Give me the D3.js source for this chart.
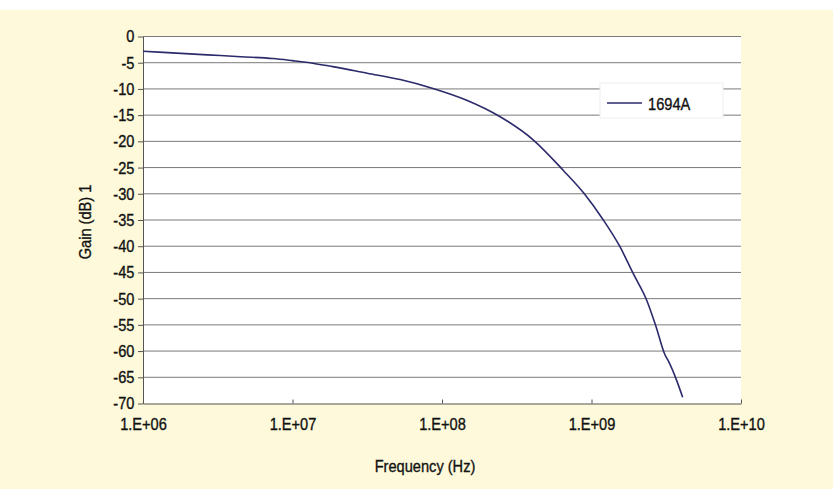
<!DOCTYPE html>
<html>
<head>
<meta charset="utf-8">
<script src="https://cdn.jsdelivr.net/npm/d3@7"></script>
<style>
  body { margin: 0; background: #fdf9da; }
  svg text { font-family: "Liberation Sans", Arial, sans-serif; fill: #111; stroke: #111; stroke-width: 0.35px; }
  .grid line { stroke: #7a7a7a; stroke-width: 1; }
  .axis path, .axis line { stroke: #555; }
</style>
</head>
<body>
<script>
//Series: frequency (Hz) and gain (dB)
var freqHz = [1.0e6, 2.7e6, 4.5e6, 7.4e6, 1.0e7, 1.23e7, 1.86e7, 3.16e7, 5.25e7, 8.7e7,
              1.45e8, 2.45e8, 4.07e8, 6.46e8, 8.9e8, 1.2e9, 1.55e9, 1.9e9, 2.34e9,
              2.7e9, 3.1e9, 3.24e9, 3.7e9, 4.07e9];
var gainDb = [-2.8, -3.5, -3.85, -4.2, -4.6, -4.9, -5.75, -7.0, -8.2, -9.9,
              -12.1, -15.3, -19.7, -25.5, -29.9, -35.0, -40.1, -45.2, -50.3,
              -55.3, -60.7, -61.7, -65.5, -68.8];
var xTicks = [1e6, 1e7, 1e8, 1e9, 1e10];
var xTickLabels = ["1.E+06", "1.E+07", "1.E+08", "1.E+09", "1.E+10"];
var yTicks = [0, -5, -10, -15, -20, -25, -30, -35, -40, -45, -50, -55, -60, -65, -70];
var seriesName = "1694A";

//Frame
var width = 833, height = 489;
var plotLeft = 143, plotRight = 741, plotTop = 36.5, plotBottom = 403.5;
var narrow = "scale(0.86,1)";

var svg = d3.select("body").append("svg")
    .attr("width", width)
    .attr("height", height);

//White strip along the top edge of the scan
svg.append("rect")
    .attr("width", width).attr("height", 10)
    .attr("fill", "#ffffff");

var x = d3.scaleLog().domain([1e6, 1e10]).range([plotLeft, plotRight]);
var y = d3.scaleLinear().domain([-70, 0]).range([plotBottom, plotTop]);

//Plot area
svg.append("rect")
    .attr("x", plotLeft).attr("y", plotTop)
    .attr("width", plotRight - plotLeft).attr("height", plotBottom - plotTop)
    .attr("fill", "#ffffff");

//Horizontal gridlines
svg.append("g")
    .attr("class", "grid")
    .selectAll("line")
    .data(yTicks.filter(function(d){ return d > -70; }))
    .enter()
    .append("line")
    .attr("x1", plotLeft).attr("x2", plotRight)
    .attr("y1", function(d){ return y(d); })
    .attr("y2", function(d){ return y(d); });

//Y axis (plain hyphen for the minus sign, as in the original)
var yAxis = svg.append("g")
    .attr("class", "axis")
    .attr("transform", "translate(" + plotLeft + ",0)")
    .call(d3.axisLeft(y).tickValues(yTicks)
        .tickFormat(function(d){ return String(d); })
        .tickSize(5).tickSizeOuter(0).tickPadding(5));
yAxis.selectAll("text")
    .style("font-size", "17px")
    .attr("transform", narrow);

//X axis
var xAxis = svg.append("g")
    .attr("class", "axis")
    .attr("transform", "translate(0," + plotBottom + ")")
    .call(d3.axisBottom(x).tickValues(xTicks)
        .tickFormat(function(d, i){ return xTickLabels[i]; })
        .tickSize(-4).tickSizeOuter(0).tickPadding(14));
xAxis.selectAll("text")
    .style("font-size", "17px")
    .attr("transform", narrow);

//Line
var line = d3.line()
    .x(function(d){ return x(d[0]); })
    .y(function(d){ return y(d[1]); })
    .curve(d3.curveMonotoneX);

svg.append("path")
    .datum(d3.zip(freqHz, gainDb))
    .attr("d", line)
    .attr("fill", "none")
    .attr("stroke", "#2b2a6b")
    .attr("stroke-width", 1.6);

//Legend
var legend = svg.append("g").attr("transform", "translate(600,83)");
legend.append("rect")
    .attr("width", 123).attr("height", 35)
    .attr("fill", "#ffffff")
    .attr("stroke", "#eeeeee");
legend.append("line")
    .attr("x1", 7).attr("x2", 42)
    .attr("y1", 20).attr("y2", 20)
    .attr("stroke", "#2b2a6b").attr("stroke-width", 1.6);
legend.append("text")
    .attr("transform", "translate(48,27) " + narrow)
    .style("font-size", "17px")
    .text(seriesName);

//Axis titles
svg.append("text")
    .attr("transform", "translate(425,472) " + narrow)
    .attr("text-anchor", "middle")
    .style("font-size", "17px")
    .text("Frequency (Hz)");

svg.append("text")
    .attr("transform", "translate(91,222) rotate(-90) " + narrow)
    .attr("text-anchor", "middle")
    .style("font-size", "17px")
    .text("Gain (dB) 1");
</script>
</body>
</html>
